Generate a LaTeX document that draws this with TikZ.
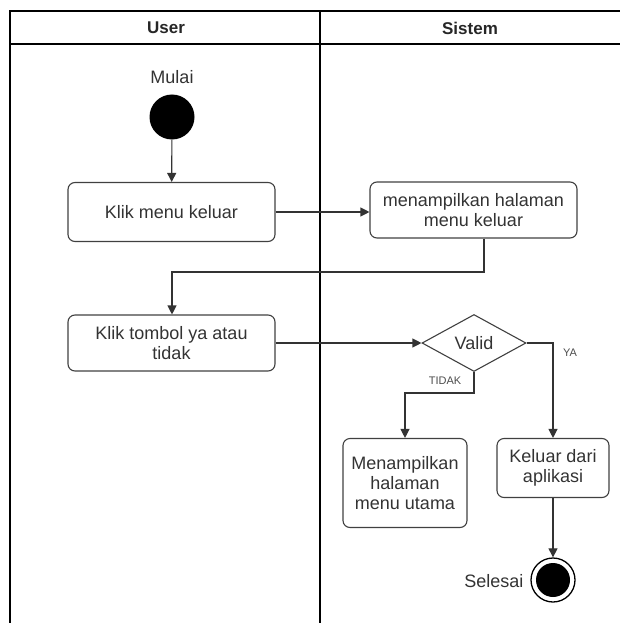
\documentclass[tikz,border=0pt]{standalone}
\usepackage{fontspec}
\setmainfont{Liberation Sans}
\usetikzlibrary{shapes.geometric,arrows.meta}
\begin{document}
\begin{tikzpicture}[x=1pt,y=-1pt,
  lane/.style={line width=1.3pt, draw=black},
  act/.style={draw=black!75, line width=1.1pt, rounded corners=7pt, align=center,
    font=\fontsize{18}{20}\selectfont, text=black!80, inner sep=0pt},
  flow/.style={draw=black!80, line width=1.1pt, -{Triangle[length=9pt,width=9pt]}},
  guard/.style={font=\fontsize{11}{12}\selectfont, text=black!70},
  lbl/.style={font=\fontsize{18}{20}\selectfont, text=black!80}]
\useasboundingbox (0,0) rectangle (620,623);
% swimlanes
\draw[lane] (10,623) -- (10,11) -- (621,11);
\draw[lane] (10,44) -- (621,44);
\draw[lane] (320,11) -- (320,623);
\node[font=\bfseries\fontsize{17}{20}\selectfont, text=black!85] (hUser) at (166,28) {User};
\node[font=\bfseries\fontsize{17}{20}\selectfont, text=black!85] (hSys) at (470,28) {Sistem};
% start
\node[circle, fill=black, minimum size=45pt, inner sep=0pt] (start) at (172,117) {};
\node[lbl] (mulai) at (172,77) {Mulai};
% activities
\node[act, minimum width=207pt, minimum height=59pt] (a1) at (171.5,212) {Klik menu keluar};
\node[act, minimum width=207pt, minimum height=56pt] (a2) at (473.5,210) {menampilkan halaman\\menu keluar};
\node[act, minimum width=207pt, minimum height=56pt] (a3) at (171.5,343) {Klik tombol ya atau\\tidak};
\node[diamond, draw=black!75, line width=1.1pt, aspect=1.8, minimum width=104pt, minimum height=57pt,
  inner sep=0pt, font=\fontsize{18}{20}\selectfont, text=black!80] (valid) at (474,343) {Valid};
\node[act, minimum width=124pt, minimum height=89pt] (a4) at (405,483) {Menampilkan\\halaman\\menu utama};
\node[act, minimum width=112pt, minimum height=59pt] (a5) at (553,468) {Keluar dari\\aplikasi};
% end
\node[circle, draw=black, line width=1.3pt, fill=white, minimum size=44pt, inner sep=0pt] (stop) at (553,580) {};
\node[circle, fill=black, minimum size=34pt, inner sep=0pt] (stopin) at (553,580) {};
\node[lbl, anchor=east] (selesai) at (527,581) {Selesai};
% connectors
\draw[flow] (start) -- (a1);
\draw[flow] (a1.east) -- (a1.east -| a2.west);
\draw[flow] ([xshift=10.5pt]a2.south) |- (172,272) -- (a3.north -| start);
\draw[flow] (a3) -- (valid);
\draw[flow] (valid.east) -- (553,343) -- (a5.north);
\draw[flow] (valid.south) |- (405,393) -- (a4.north);
\draw[flow] (a5) -- (stop);
\node[guard] (ya) at (570,353) {YA};
\node[guard] (tidak) at (445,381) {TIDAK};
\end{tikzpicture}
\end{document}
